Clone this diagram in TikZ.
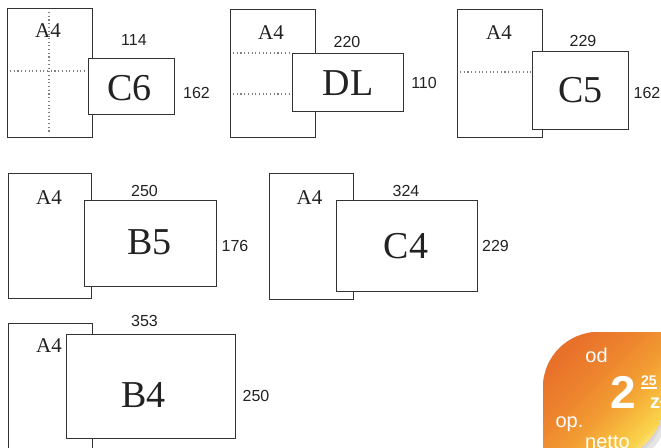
\documentclass[tikz,border=0pt]{standalone}
\usepackage{fontspec}
\setmainfont{Liberation Serif}
\setsansfont{Liberation Sans}
\usepackage{xcolor}
\usetikzlibrary{positioning,calc}

\definecolor{edge}{HTML}{333333}
\definecolor{ink}{HTML}{222222}
\definecolor{badgetop}{HTML}{E8712A}
\definecolor{badgeorange}{HTML}{EE872E}
\definecolor{badgemid}{HTML}{F3A034}
\definecolor{badgegold}{HTML}{F8C13F}
\definecolor{badgeyellow}{HTML}{FAD54E}
\definecolor{badgelow}{HTML}{FCEDA2}

\tikzset{
  sheet/.style={draw=edge, line width=1.3pt, fill=white, rectangle, anchor=north west, inner sep=0pt},
  fold/.style={draw=black!50, line width=1.3pt, dash pattern=on 1.1pt off 2.6pt},
  fmtname/.style={text=ink, font=\fontsize{38}{38}\selectfont, inner sep=0pt},
  a4name/.style={text=ink, font=\fontsize{21}{21}\selectfont, inner sep=0pt},
  dimtext/.style={text=ink, font=\sffamily\fontsize{16}{16}\selectfont, inner sep=0pt},
  badgetxt/.style={text=white, font=\sffamily\fontsize{20}{20}\selectfont, inner sep=0pt, anchor=base}
}

\newcommand{\badgeshape}{(543,461) -- (543,387) .. controls (543,356.6) and (567.6,332) .. (598,332) -- (664,332) -- (664,400) .. controls (664,433.7) and (636.7,461) .. (603,461) -- cycle}

% diagonal colour bands from #1 to #2 (distance along the diagonal), colour #3 to #4
\newcommand{\bandfill}[4]{%
  \foreach \t in {0,...,9} {
    \pgfmathsetmacro{\da}{#1+(#2-#1)*\t/10}
    \pgfmathsetmacro{\db}{\da+(#2-#1)/10+0.6}
    \pgfmathtruncatemacro{\pc}{10*\t+5}
    \fill [#4!\pc!#3] ({603+0.7071*(\da+150)},{396+0.7071*(\da-150)})
      -- ({603+0.7071*(\da-150)},{396+0.7071*(\da+150)})
      -- ({603+0.7071*(\db-150)},{396+0.7071*(\db+150)})
      -- ({603+0.7071*(\db+150)},{396+0.7071*(\db-150)}) -- cycle;
  }}

\begin{document}
\begin{tikzpicture}[x=1pt,y=-1pt]
    \useasboundingbox (0,0) rectangle (661,447);
    \clip (0,0) rectangle (661,447);

    % C6
    \node [sheet, minimum width=85pt, minimum height=129pt] (a4c6) at (7,8) {};
    \draw [fold] (49,12) -- (49,132);
    \draw [fold] (10,71) -- (88,71);
    \node [sheet, minimum width=86pt, minimum height=56pt] (c6) at (88,58) {};
    \node [a4name] (a4c6txt) at (48,31) {A4};
    \node [fmtname] (c6txt) at (129.5,88.5) {C6};
    \node [dimtext] (c6w) at (134,40) {114};
    \node [dimtext] (c6h) at (196.5,92.5) {162};

    % DL
    \node [sheet, minimum width=85pt, minimum height=128pt] (a4dl) at (230,9) {};
    \draw [fold] (233,53) -- (292,53);
    \draw [fold] (233,94) -- (292,94);
    \node [sheet, minimum width=111pt, minimum height=58pt] (dl) at (292,53) {};
    \node [a4name] (a4dltxt) at (271,32.5) {A4};
    \node [fmtname] (dltxt) at (348,83) {DL};
    \node [dimtext] (dlw) at (347,41.5) {220};
    \node [dimtext] (dlh) at (424,82.5) {110};

    % C5
    \node [sheet, minimum width=85pt, minimum height=128pt] (a4c5) at (457,9) {};
    \draw [fold] (460,72) -- (532,72);
    \node [sheet, minimum width=96pt, minimum height=78pt] (c5) at (532,51) {};
    \node [a4name] (a4c5txt) at (499,32.5) {A4};
    \node [fmtname] (c5txt) at (580.5,90) {C5};
    \node [dimtext] (c5w) at (583,40.5) {229};
    \node [dimtext] (c5h) at (647,92.5) {162};

    % B5
    \node [sheet, minimum width=83pt, minimum height=125pt] (a4b5) at (8,173) {};
    \node [sheet, minimum width=132pt, minimum height=86pt] (b5) at (84,200) {};
    \node [a4name] (a4b5txt) at (49,197.5) {A4};
    \node [fmtname] (b5txt) at (149.5,242.5) {B5};
    \node [dimtext] (b5w) at (144.5,190.5) {250};
    \node [dimtext] (b5h) at (235,246) {176};

    % C4
    \node [sheet, minimum width=84pt, minimum height=126pt] (a4c4) at (269,173) {};
    \node [sheet, minimum width=141pt, minimum height=91pt] (c4) at (336,200) {};
    \node [a4name] (a4c4txt) at (309.5,197.5) {A4};
    \node [fmtname] (c4txt) at (406,246.5) {C4};
    \node [dimtext] (c4w) at (406,190.5) {324};
    \node [dimtext] (c4h) at (495.5,246) {229};

    % B4
    \node [sheet, minimum width=84pt, minimum height=140pt] (a4b4) at (8,323) {};
    \node [sheet, minimum width=169pt, minimum height=104pt] (b4) at (66,334) {};
    \node [a4name] (a4b4txt) at (49,346) {A4};
    \node [fmtname] (b4txt) at (143.5,395) {B4};
    \node [dimtext] (b4w) at (144.5,321) {353};
    \node [dimtext] (b4h) at (256,396) {250};

    % price badge
    \begin{scope}[shift={(5,7)}]
        \fill [black, opacity=0.10] \badgeshape;
    \end{scope}
    \begin{scope}[shift={(2,3)}]
        \fill [black, opacity=0.06] \badgeshape;
    \end{scope}
    \begin{scope}
        \clip \badgeshape;
        \fill [badgetop] (540,330) rectangle (670,465);
        \bandfill{-56}{-16}{badgetop}{badgeorange}
        \bandfill{-16}{16}{badgeorange}{badgemid}
        \bandfill{16}{42}{badgemid}{badgegold}
        \bandfill{42}{58}{badgegold}{badgeyellow}
        \bandfill{58}{68}{badgeyellow}{badgelow}
        \fill [badgelow] ({603+0.7071*218},{396+0.7071*(-82)}) -- ({603+0.7071*(-82)},{396+0.7071*218})
            -- (700,500) -- cycle;
    \end{scope}
    \node [badgetxt] (od) at (596.5,362) {od};
    \node [badgetxt, font=\sffamily\bfseries\fontsize{46}{46}\selectfont] (price) at (623,408) {2};
    \node [badgetxt, anchor=base west, font=\sffamily\bfseries\fontsize{14}{14}\selectfont] (cents) at (641,385) {25};
    \draw [white, line width=1.3pt] ($(cents.base west)+(0,3)$) -- ($(cents.base east)+(0,3)$);
    \node [badgetxt, anchor=base west, font=\sffamily\bfseries\fontsize{20}{20}\selectfont] (unit) at (650,408) {zł};
    \node [badgetxt] (op) at (569.5,427) {op.};
    \node [badgetxt, anchor=base west] (netto) at (585,448) {netto};
\end{tikzpicture}
\end{document}
